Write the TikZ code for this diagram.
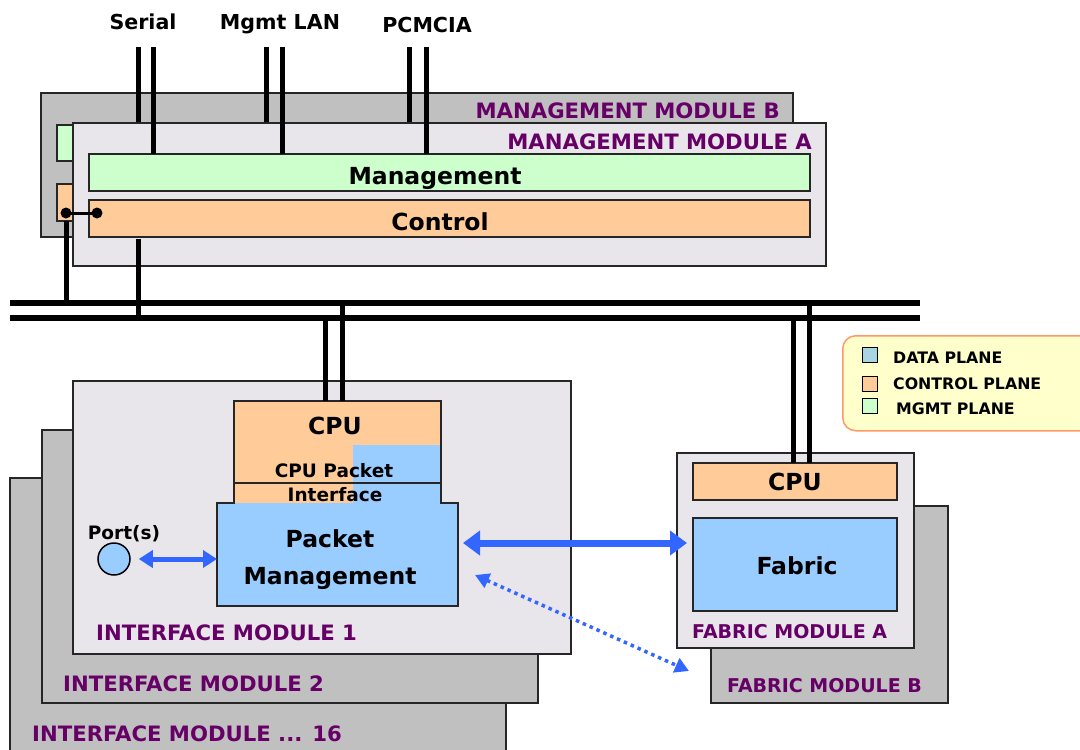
\documentclass[tikz,border=0pt]{standalone}
\usepackage{fontspec}
\setmainfont{DejaVu Sans}
\usetikzlibrary{arrows.meta,calc}
\definecolor{modgray}{HTML}{C0C0C0}
\definecolor{modlight}{HTML}{E8E6EA}
\definecolor{mgmtgreen}{HTML}{CCFFCC}
\definecolor{ctrlorange}{HTML}{FFCC99}
\definecolor{datablue}{HTML}{99CCFF}
\definecolor{legblue}{HTML}{A9D5E3}
\definecolor{purp}{HTML}{660066}
\definecolor{arrblue}{HTML}{3366FF}
\definecolor{legfill}{HTML}{FFFFCC}
\definecolor{legborder}{HTML}{FF9966}
\newcommand{\fsz}[1]{\fontsize{#1}{#1}\selectfont\bfseries}
\begin{document}
\begin{tikzpicture}[x=1pt,y=-1pt,
  box/.style={draw=black!85, line width=1.5pt, outer sep=0pt, inner sep=0pt, anchor=north west},
  modlab/.style={text=purp, font=\fsz{21.2}, inner sep=0pt},
  fablab/.style={text=purp, font=\fsz{19}, inner sep=0pt},
  biglab/.style={text=black, font=\fsz{23.5}, inner sep=0pt, anchor=base},
  midlab/.style={text=black, font=\fsz{18.5}, inner sep=0pt, anchor=base},
  toplab/.style={text=black, font=\fsz{20.6}, inner sep=0pt, anchor=base},
  leglab/.style={text=black, font=\fsz{15.8}, inner sep=0pt, anchor=base west},
  cable/.style={line width=5pt, black},
  bus/.style={line width=6pt, black},
  arrbig/.style={arrblue, line width=7pt, {Triangle[length=17pt,width=24pt]}-{Triangle[length=17pt,width=24pt]}},
  arrport/.style={arrblue, line width=5pt, {Triangle[length=14pt,width=17pt]}-{Triangle[length=14pt,width=17pt]}},
  arrdot/.style={arrblue, line width=3.5pt, dash pattern=on 3.5pt off 4pt, {Triangle[length=14pt,width=15pt]}-{Triangle[length=14pt,width=15pt]}},
  legsq/.style={draw=black, line width=1.5pt, minimum size=15pt, inner sep=0pt, outer sep=0pt}
]
\useasboundingbox (0,0) rectangle (1080,750);

% ---------- Management module B ----------
\node[box, fill=modgray, minimum width=752pt, minimum height=144pt] (mmB) at (41,93) {};
\node[box, fill=mgmtgreen, minimum width=20pt, minimum height=36pt] (mmBg) at (57,125) {};
\node[box, fill=ctrlorange, minimum width=20pt, minimum height=37pt] (mmBc) at (57,184) {};
\node[modlab, anchor=base east] (mmBlab) at (780,118) {MANAGEMENT MODULE B};

% top cables for module B
\coordinate (serT1) at (138,47);
\coordinate (lanT1) at (266,47);
\coordinate (pcmT1) at (409,47);
\draw[cable] (serT1) -- (138,126);
\draw[cable] (lanT1) -- (266,126);
\draw[cable] (pcmT1) -- (409,126);

% ---------- Management module A ----------
\node[box, fill=modlight, minimum width=753pt, minimum height=143pt] (mmA) at (73,123) {};
\node[modlab, anchor=base east] (mmAlab) at (812,149) {MANAGEMENT MODULE A};
\node[box, fill=mgmtgreen, minimum width=721pt, minimum height=37pt] (mgmt) at (89,154) {};
\node[box, fill=ctrlorange, minimum width=721pt, minimum height=37pt] (ctrl) at (89,200) {};
\node[biglab] (mgmtlab) at (435,184) {Management};
\node[biglab] (ctrllab) at (440,230) {Control};

% top cables to module A
\coordinate (serT2) at (153,47);
\coordinate (lanT2) at (282,47);
\coordinate (pcmT2) at (426,47);
\draw[cable] (serT2) -- (serT2 |- mgmt.north);
\draw[cable] (lanT2) -- (lanT2 |- mgmt.north);
\draw[cable] (pcmT2) -- (pcmT2 |- mgmt.north);
\node[toplab] (serlab) at (143,29) {Serial};
\node[toplab] (lanlab) at (280,29) {Mgmt LAN};
\node[toplab] (pcmlab) at (427,32) {PCMCIA};

% bus
\coordinate (bus1W) at (10,303);
\coordinate (bus1E) at (920,303);
\coordinate (bus2W) at (10,318);
\coordinate (bus2E) at (920,318);
\draw[bus] (bus1W) -- (bus1E);
\draw[bus] (bus2W) -- (bus2E);

% control links
\coordinate (dotB) at (66,213);
\coordinate (dotA) at (97,213);
\draw[cable] (66,221) -- (66,303);
\draw[cable] (138,239) -- (138,318);
\draw[line width=3pt] (dotB) -- (dotA);
\fill (dotB) circle (5.5pt);
\fill (dotA) circle (5.5pt);

% ---------- Interface modules ----------
\node[box, fill=modgray, minimum width=496pt, minimum height=290pt] (im16) at (10,478) {};
\node[box, fill=modgray, minimum width=496pt, minimum height=273pt] (im2) at (42,430) {};
\node[box, fill=modlight, minimum width=498pt, minimum height=273pt] (im1) at (73,381) {};
\node[modlab, anchor=base west] (im16lab) at (32,741) {INTERFACE MODULE ... 16};
\node[modlab, anchor=base west] (im2lab) at (63,691) {INTERFACE MODULE 2};
\node[modlab, anchor=base west] (im1lab) at (96,640) {INTERFACE MODULE 1};

% CPU + packet management
\node[fill=ctrlorange, inner sep=0pt, outer sep=0pt, anchor=north west, minimum width=207pt, minimum height=102pt] (cpuI) at (234,401) {};
\fill[datablue] (353,445) rectangle (441,503);
\node[fill=datablue, inner sep=0pt, outer sep=0pt, anchor=north west, minimum width=241pt, minimum height=103pt] (pkt) at (217,503) {};
\draw[line width=1.5pt, black!85] (pkt.north west) -- (pkt.north west -| cpuI.west) -- (cpuI.north west) -- (cpuI.north east) -- (pkt.north east -| cpuI.east) -- (pkt.north east) -- (pkt.south east) -- (pkt.south west) -- cycle;
\draw[line width=1.5pt, black!85] (234,483) -- (441,483);
\node[biglab] (cpuIlab) at (335,434) {CPU};
\node[midlab] (cpilab1) at (334,477) {CPU Packet};
\node[midlab] (cpilab2) at (335,501) {Interface};
\node[biglab] (pktlab1) at (330,547) {Packet};
\node[biglab] (pktlab2) at (330,584) {Management};

\draw[cable] (325,318) -- (325,0 |- cpuI.north);
\draw[cable] (342,303) -- (342,0 |- cpuI.north);

% port
\node[draw=black, line width=1.5pt, fill=datablue, circle, minimum size=32pt, inner sep=0pt] (port) at (114,559) {};
\node[midlab] (portlab) at (124,539) {Port(s)};
\draw[arrport] ($(port.east)+(8,0)$) -- (pkt.west |- port.east);

% ---------- Fabric modules ----------
\node[box, fill=modgray, minimum width=237pt, minimum height=197pt] (fmB) at (711,506) {};
\node[box, fill=modlight, minimum width=237pt, minimum height=195pt] (fmA) at (677,453) {};
\node[box, fill=ctrlorange, minimum width=204pt, minimum height=37pt] (cpuF) at (693,463) {};
\node[box, fill=datablue, minimum width=204pt, minimum height=93pt] (fab) at (693,518) {};
\node[biglab] (cpuFlab) at (795,490) {CPU};
\node[biglab] (fablab) at (797,574) {Fabric};
\node[fablab, anchor=base west] (fmAlab) at (692,638) {FABRIC MODULE A};
\node[fablab, anchor=base west] (fmBlab) at (727,692) {FABRIC MODULE B};
\draw[cable] (793,318) -- (793,0 |- cpuF.north);
\draw[cable] (809,303) -- (809,0 |- cpuF.north);

% arrows
\draw[arrbig] ($(pkt.north east)+(5,40)$) -- ($(fab.north west)+(-6,25)$);
\coordinate (dotS) at (475,575);
\coordinate (dotE) at (689,671);
\draw[arrdot] (dotS) -- (dotE);

% ---------- Legend ----------
\node[draw=legborder, line width=1.5pt, fill=legfill, rounded corners=13pt, anchor=north west, minimum width=250pt, minimum height=95pt, inner sep=0pt] (legend) at (842,335) {};
\node[legsq, fill=legblue] (sqD) at (870,355) {};
\node[legsq, fill=ctrlorange] (sqC) at (870,384) {};
\node[legsq, fill=mgmtgreen] (sqM) at (870,406) {};
\node[leglab] (legD) at (893,363) {DATA PLANE};
\node[leglab] (legC) at (893,389) {CONTROL PLANE};
\node[leglab] (legM) at (896,414) {MGMT PLANE};
\end{tikzpicture}
\end{document}
